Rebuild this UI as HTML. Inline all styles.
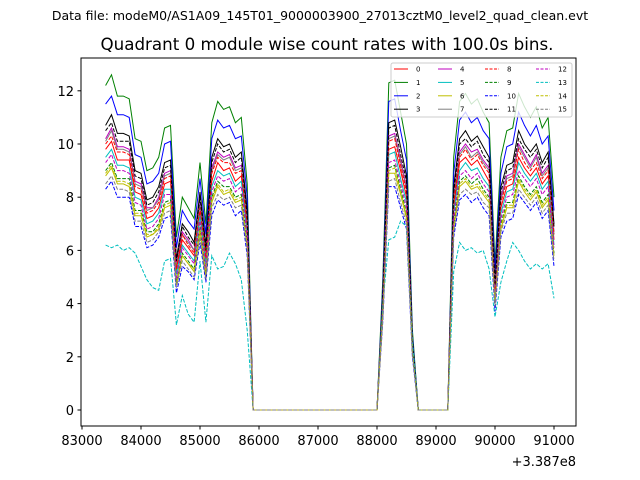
<!DOCTYPE html>
<html><head><meta charset="utf-8"><style>
body{margin:0;background:#fff;}
svg{display:block;font-family:"DejaVu Sans","Liberation Sans",sans-serif;}
</style></head><body>
<svg id="chart" width="640" height="480" viewBox="0 0 640 480" xmlns="http://www.w3.org/2000/svg">
<rect width="640" height="480" fill="#fff"/>
<text x="320" y="20" font-size="12.5" text-anchor="middle">Data file: modeM0/AS1A09_145T01_9000003900_27013cztM0_level2_quad_clean.evt</text>
<text x="327" y="50" font-size="16.7" text-anchor="middle">Quadrant 0 module wise count rates with 100.0s bins.</text>
<g id="plot"></g>
<rect x="81" y="58" width="495" height="368" fill="none" stroke="#000" stroke-width="1"/>
<g id="axes"></g>
<g id="legend"></g>
<text x="576" y="466" font-size="13" text-anchor="end">+3.387e8</text>
</svg>
<script>
const times=[83400,83500,83600,83700,83800,83900,84000,84100,84200,84300,84400,84500,84600,84700,84800,84900,85000,85100,85200,85300,85400,85500,85600,85700,85800,85900,88000,88100,88200,88300,88400,88500,88600,88700,89200,89300,89400,89500,89600,89700,89800,89900,90000,90100,90200,90300,90400,90500,90600,90700,90800,90900,91000];
const s0=[9.8,10.1,9.4,9.4,9.4,8.2,8.1,7.2,7.3,7.6,8.5,8.6,5.2,6.4,6.1,5.8,7.4,5.6,8.6,9.3,9.0,9.1,8.6,8.8,6.8,0,0,4.0,9.8,9.9,9.0,8.0,2.4,0,0,7.6,9.3,9.5,9.2,9.4,9.0,8.6,4.4,7.6,8.4,8.5,9.5,9.1,8.8,9.1,8.5,8.8,6.4];
const s1=[12.2,12.6,11.8,11.8,11.7,10.2,10.1,9.0,9.1,9.5,10.6,10.7,6.5,8.0,7.6,7.2,9.3,7.0,10.8,11.6,11.3,11.4,10.8,11.0,8.5,0,0,5.0,12.3,12.4,11.2,10.0,3.0,0,0,9.5,11.6,11.9,11.5,11.7,11.2,10.8,5.5,9.5,10.5,10.6,11.9,11.4,11.0,11.4,10.6,11.0,8.0];
const s2=[11.5,11.8,11.1,11.1,11.0,9.6,9.5,8.5,8.6,8.9,10.0,10.1,6.1,7.5,7.1,6.8,8.7,6.6,10.2,10.9,10.6,10.7,10.2,10.3,8.0,0,0,4.7,11.6,11.7,10.5,9.4,2.8,0,0,8.9,10.9,11.2,10.8,11.0,10.5,10.2,5.2,8.9,9.9,10.0,11.2,10.7,10.3,10.7,10.0,10.3,7.5];
const s3=[10.7,11.1,10.4,10.4,10.3,9.0,8.9,7.9,8.0,8.4,9.3,9.4,5.7,7.0,6.7,6.3,8.2,6.2,9.5,10.2,9.9,10.0,9.5,9.7,7.5,0,0,4.4,10.8,10.9,9.9,8.8,2.6,0,0,8.4,10.2,10.5,10.1,10.3,9.9,9.5,4.8,8.4,9.2,9.3,10.5,10.0,9.7,10.0,9.3,9.7,7.0];
const s4=[10.2,10.6,9.9,9.9,9.8,8.6,8.5,7.6,7.6,8.0,8.9,9.0,5.5,6.7,6.4,6.0,7.8,5.9,9.1,9.7,9.5,9.6,9.1,9.2,7.1,0,0,4.2,10.3,10.4,9.4,8.4,2.5,0,0,8.0,9.7,10.0,9.7,9.8,9.4,9.1,4.6,8.0,8.8,8.9,10.0,9.6,9.2,9.6,8.9,9.2,6.7];
const s5=[9.5,9.8,9.2,9.2,9.1,8.0,7.9,7.0,7.1,7.4,8.3,8.3,5.1,6.2,5.9,5.6,7.3,5.5,8.4,9.0,8.8,8.9,8.4,8.6,6.6,0,0,3.9,9.6,9.7,8.7,7.8,2.3,0,0,7.4,9.0,9.3,9.0,9.1,8.7,8.4,4.3,7.4,8.2,8.3,9.3,8.9,8.6,8.9,8.3,8.6,6.2];
const s6=[8.8,9.1,8.5,8.5,8.4,7.3,7.3,6.5,6.6,6.8,7.6,7.7,4.7,5.8,5.5,5.2,6.7,5.0,7.8,8.4,8.1,8.2,7.8,7.9,6.1,0,0,3.6,8.9,8.9,8.1,7.2,2.2,0,0,6.8,8.4,8.6,8.3,8.4,8.1,7.8,4.0,6.8,7.6,7.6,8.6,8.2,7.9,8.2,7.6,7.9,5.8];
const s7=[10.1,10.5,9.8,9.8,9.7,8.5,8.4,7.5,7.6,7.9,8.8,8.9,5.4,6.6,6.3,6.0,7.7,5.8,9.0,9.6,9.4,9.5,9.0,9.1,7.1,0,0,4.2,10.2,10.3,9.3,8.3,2.5,0,0,7.9,9.6,9.9,9.5,9.7,9.3,9.0,4.6,7.9,8.7,8.8,9.9,9.5,9.1,9.5,8.8,9.1,6.6];
const s8=[10.0,10.3,9.7,9.7,9.6,8.4,8.3,7.4,7.5,7.8,8.7,8.8,5.3,6.6,6.2,5.9,7.6,5.7,8.9,9.5,9.3,9.3,8.9,9.0,7.0,0,0,4.1,10.1,10.2,9.2,8.2,2.5,0,0,7.8,9.5,9.8,9.4,9.6,9.2,8.9,4.5,7.8,8.6,8.7,9.8,9.3,9.0,9.3,8.7,9.0,6.6];
const s9=[9.0,9.3,8.7,8.7,8.7,7.5,7.5,6.7,6.7,7.0,7.8,7.9,4.8,5.9,5.6,5.3,6.9,5.2,8.0,8.6,8.4,8.4,8.0,8.1,6.3,0,0,3.7,9.1,9.2,8.3,7.4,2.2,0,0,7.0,8.6,8.8,8.5,8.7,8.3,8.0,4.1,7.0,7.8,7.8,8.8,8.4,8.1,8.4,7.8,8.1,5.9];
const s10=[8.3,8.6,8.0,8.0,8.0,6.9,6.9,6.1,6.2,6.5,7.2,7.3,4.4,5.4,5.2,4.9,6.3,4.8,7.3,7.9,7.7,7.8,7.3,7.5,5.8,0,0,3.4,8.4,8.4,7.6,6.8,2.0,0,0,6.5,7.9,8.1,7.8,8.0,7.6,7.3,3.7,6.5,7.1,7.2,8.1,7.8,7.5,7.8,7.2,7.5,5.4];
const s11=[10.5,10.8,10.1,10.1,10.1,8.8,8.7,7.7,7.8,8.2,9.1,9.2,5.6,6.9,6.5,6.2,8.0,6.0,9.3,10.0,9.7,9.8,9.3,9.5,7.3,0,0,4.3,10.6,10.7,9.6,8.6,2.6,0,0,8.2,10.0,10.2,9.9,10.1,9.6,9.3,4.7,8.2,9.0,9.1,10.2,9.8,9.5,9.8,9.1,9.5,6.9];
const s12=[9.3,9.6,9.0,9.0,8.9,7.8,7.7,6.8,6.9,7.2,8.1,8.1,4.9,6.1,5.8,5.5,7.1,5.3,8.2,8.8,8.6,8.7,8.2,8.4,6.5,0,0,3.8,9.3,9.4,8.5,7.6,2.3,0,0,7.2,8.8,9.0,8.7,8.9,8.5,8.2,4.2,7.2,8.0,8.1,9.0,8.7,8.4,8.7,8.1,8.4,6.1];
const s13=[6.2,6.1,6.2,6.0,6.1,5.9,5.4,4.9,4.6,4.5,5.6,5.7,3.2,4.3,3.6,3.3,5.6,3.3,5.8,5.3,5.4,5.9,5.5,4.9,3.0,0,0,4.0,6.4,6.5,7.1,6.9,2.5,0,0,5.2,6.3,6.0,6.1,5.9,6.0,5.3,3.5,4.8,5.6,6.3,6.0,5.6,5.3,5.5,5.3,5.5,4.2];
const s14=[8.9,9.2,8.6,8.6,8.5,7.4,7.4,6.6,6.6,6.9,7.7,7.8,4.7,5.8,5.5,5.3,6.8,5.1,7.9,8.5,8.2,8.3,7.9,8.0,6.2,0,0,3.7,9.0,9.1,8.2,7.3,2.2,0,0,6.9,8.5,8.7,8.4,8.5,8.2,7.9,4.0,6.9,7.7,7.7,8.7,8.3,8.0,8.3,7.7,8.0,5.8];
const s15=[8.5,8.8,8.3,8.3,8.2,7.1,7.1,6.3,6.4,6.7,7.4,7.5,4.6,5.6,5.3,5.0,6.5,4.9,7.6,8.1,7.9,8.0,7.6,7.7,6.0,0,0,3.5,8.6,8.7,7.8,7.0,2.1,0,0,6.7,8.1,8.3,8.1,8.2,7.8,7.6,3.9,6.7,7.4,7.4,8.3,8.0,7.7,8.0,7.4,7.7,5.6];
const series=[s0,s1,s2,s3,s4,s5,s6,s7,s8,s9,s10,s11,s12,s13,s14,s15];
const seriesLabels=["0","1","2","3","4","5","6","7","8","9","10","11","12","13","14","15"];
const xTicks=[83000,84000,85000,86000,87000,88000,89000,90000,91000];
const yTicks=[0,2,4,6,8,10,12];

const colors=["#ff0000","#008000","#0000ff","#000000","#bf00bf","#00bfbf","#bfbf00","#808080"];
const NS="http://www.w3.org/2000/svg";
function xs(t){return 82+(t-83000)*0.059;}
function ys(v){return 410-v*26.6;}
const plot=document.getElementById('plot');
series.forEach((s,i)=>{
  const p=document.createElementNS(NS,'polyline');
  p.setAttribute('points',s.map((v,j)=>xs(times[j]).toFixed(1)+','+ys(v).toFixed(1)).join(' '));
  p.setAttribute('fill','none');
  p.setAttribute('stroke',colors[i%8]);
  p.setAttribute('stroke-width','1');
  if(i>=8)p.setAttribute('stroke-dasharray','3.7,1.6');
  
  
  plot.appendChild(p);
});
const axes=document.getElementById('axes');
xTicks.forEach(t=>{
  const x=xs(t);
  const l=document.createElementNS(NS,'line');
  l.setAttribute('x1',x);l.setAttribute('x2',x);l.setAttribute('y1',426);l.setAttribute('y2',429.5);l.setAttribute('stroke','#000');
  
  
  axes.appendChild(l);
  const tx=document.createElementNS(NS,'text');
  tx.setAttribute('x',x);tx.setAttribute('y',445);tx.setAttribute('font-size','13');tx.setAttribute('text-anchor','middle');
  tx.textContent=t;
  
  
  axes.appendChild(tx);
});
yTicks.forEach(v=>{
  const y=ys(v);
  const l=document.createElementNS(NS,'line');
  l.setAttribute('x1',77.5);l.setAttribute('x2',81);l.setAttribute('y1',y);l.setAttribute('y2',y);l.setAttribute('stroke','#000');
  
  
  axes.appendChild(l);
  const tx=document.createElementNS(NS,'text');
  tx.setAttribute('x',74);tx.setAttribute('y',y+5);tx.setAttribute('font-size','13');tx.setAttribute('text-anchor','end');
  tx.textContent=v;
  
  
  axes.appendChild(tx);
});
const lg=document.getElementById('legend');
const box=document.createElementNS(NS,'rect');
box.setAttribute('x',391);box.setAttribute('y',63);box.setAttribute('width',181);box.setAttribute('height',54);box.setAttribute('rx',2);
box.setAttribute('fill','#fff');box.setAttribute('fill-opacity','0.8');box.setAttribute('stroke','#ccc');


lg.appendChild(box);
const colX=[394,438,485,536];
series.forEach((s,i)=>{
  const c=Math.floor(i/4),r=i%4;
  const y=69+r*13.4,x=colX[c];
  const l=document.createElementNS(NS,'line');
  l.setAttribute('x1',x);l.setAttribute('x2',x+14);l.setAttribute('y1',y);l.setAttribute('y2',y);
  l.setAttribute('stroke',colors[i%8]);l.setAttribute('stroke-width','1');
  if(i>=8)l.setAttribute('stroke-dasharray','3,1.5');
  
  
  lg.appendChild(l);
  const t=document.createElementNS(NS,'text');
  t.setAttribute('x',x+22);t.setAttribute('y',y+2.5);t.setAttribute('font-size','7');
  t.textContent=seriesLabels[i];
  
  
  lg.appendChild(t);
});
</script>
</body></html>
